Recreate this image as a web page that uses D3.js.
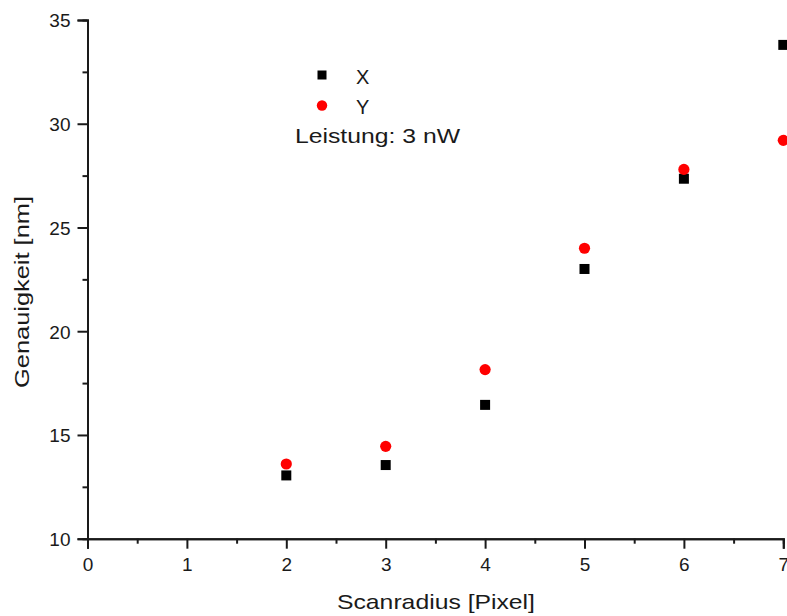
<!DOCTYPE html>
<html>
<head>
<meta charset="utf-8">
<script src="https://cdn.jsdelivr.net/npm/d3@7"></script>
<style>
  html, body { margin: 0; padding: 0; background: #fff; }
  svg { display: block; font-family: "Liberation Sans", Arial, sans-serif; }
</style>
</head>
<body>
<script>
const scanRadius = [2, 3, 4, 5, 6, 7];
const valuesX = [13.05, 13.55, 16.45, 23.0, 27.35, 33.8];
const valuesY = [13.6, 14.45, 18.15, 24.0, 27.8, 29.2];
const xTicks = [0, 1, 2, 3, 4, 5, 6, 7];
const yTicks = [10, 15, 20, 25, 30, 35];
const xMinorTicks = [0.5, 1.5, 2.5, 3.5, 4.5, 5.5, 6.5];
const yMinorTicks = [12.5, 17.5, 22.5, 27.5, 32.5];
const seriesNames = ["X", "Y"];
const annotation = "Leistung: 3 nW";
const xTitle = "Scanradius [Pixel]";
const yTitle = "Genauigkeit [nm]";

const W = 787, H = 616;
const FONT = '"Liberation Sans", Arial, sans-serif';
const INK = "#1a1a1a";
const svg = d3.select("body").append("svg").attr("width", W).attr("height", H);

const x = d3.scaleLinear().domain([0, 7]).range([87.5, 783.3]);
const y = d3.scaleLinear().domain([10, 35]).range([538.7, 20]);

// axes
const xAxis = svg.append("g").attr("transform", `translate(0,${y(10)})`)
  .call(d3.axisBottom(x).tickValues(xTicks).tickSize(10).tickPadding(6).tickFormat(d3.format("d")));
const xMinor = svg.append("g").attr("transform", `translate(0,${y(10)})`)
  .call(d3.axisBottom(x).tickValues(xMinorTicks).tickSize(5).tickFormat(""));
const yAxis = svg.append("g").attr("transform", `translate(${x(0)},0)`)
  .call(d3.axisLeft(y).tickValues(yTicks).tickSize(10).tickPadding(7).tickFormat(d3.format("d")));
const yMinor = svg.append("g").attr("transform", `translate(${x(0)},0)`)
  .call(d3.axisLeft(y).tickValues(yMinorTicks).tickSize(5).tickFormat(""));

[xAxis, xMinor, yAxis, yMinor].forEach(g => {
  g.attr("font-size", null).attr("font-family", null);
  g.selectAll("path.domain").attr("stroke", INK).attr("stroke-width", 2);
  g.selectAll(".tick line").attr("stroke", INK).attr("stroke-width", 2);
  g.selectAll(".tick text").attr("fill", INK).style("font-size", "19px")
    .style("font-family", FONT);
});
xAxis.selectAll(".tick text").attr("y", 0).attr("dy", null).attr("transform", "translate(0,32)");
yAxis.selectAll(".tick text").attr("dy", "0.36em");

// axis titles
svg.append("text").attr("x", 337).attr("y", 609)
  .attr("textLength", 198).attr("lengthAdjust", "spacingAndGlyphs")
  .style("font-size", "21px").attr("fill", INK).text(xTitle);
svg.append("text").attr("transform", `translate(29,388) rotate(-90)`)
  .attr("textLength", 192).attr("lengthAdjust", "spacingAndGlyphs")
  .style("font-size", "21px").attr("fill", INK).text(yTitle);

// data
const sq = 10;
svg.append("g").selectAll("rect").data(scanRadius.map((r, i) => [r, valuesX[i]])).join("rect")
  .attr("x", d => x(d[0]) - sq / 2).attr("y", d => y(d[1]) - sq / 2)
  .attr("width", sq).attr("height", sq).attr("fill", "#000");
svg.append("g").selectAll("circle").data(scanRadius.map((r, i) => [r, valuesY[i]])).join("circle")
  .attr("cx", d => x(d[0])).attr("cy", d => y(d[1])).attr("r", 5.6).attr("fill", "#ff0000");

// legend
const lg = svg.append("g");
lg.append("rect").attr("x", 322 - 4.5).attr("y", 75 - 4.5).attr("width", 9).attr("height", 9).attr("fill", "#000");
lg.append("circle").attr("cx", 322).attr("cy", 105.5).attr("r", 5.2).attr("fill", "#ff0000");
lg.append("text").attr("x", 356).attr("y", 84).style("font-size", "20px").attr("fill", INK).text(seriesNames[0]);
lg.append("text").attr("x", 356).attr("y", 114).style("font-size", "20px").attr("fill", INK).text(seriesNames[1]);
lg.append("text").attr("x", 295).attr("y", 143)
  .attr("textLength", 165).attr("lengthAdjust", "spacingAndGlyphs")
  .style("font-size", "21px").attr("fill", INK).text(annotation);
</script>
</body>
</html>
